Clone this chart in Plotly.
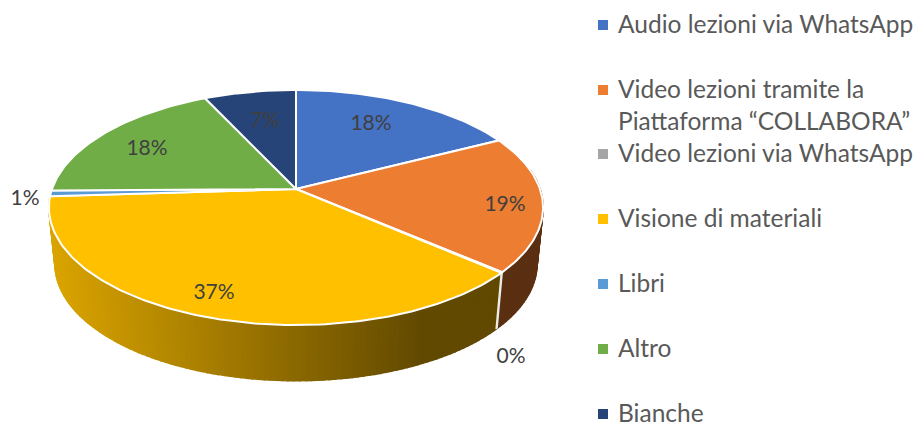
import math
import plotly.graph_objects as go

categories = ["Audio lezioni via WhatsApp", "Video lezioni tramite la<br>Piattaforma “COLLABORA”",
              "Video lezioni via WhatsApp", "Visione di materiali", "Libri", "Altro", "Bianche"]
values = [17.5, 18.8, 0.1, 37.6, 0.8, 18.2, 7.0]
labels = ["18%", "19%", "0%", "37%", "1%", "18%", "7%"]
colors = ["#4472C4", "#ED7D31", "#A5A5A5", "#FFC000", "#5B9BD5", "#70AD47", "#264478"]

# layout geometry (pixels of the 916x425 page)
CX, CY, A, B, K = 296, 189, 244, 114.6, 0.1575
DEPTH, BOT_A, BOT_B = 57, 0.975, 0.99
legend_y = [25, 90, 154, 219, 284, 349, 414]
legend_text_y = [23, 104, 152, 217, 282, 347, 412]
label_xy = [(371, 125), (505, 206), (511, 358), (214, 294), (25, 200), (147, 150), (265, 122)]


def rim(theta, dy=0.0, sa=1.0, sb=1.0):
    X, Y = math.sin(theta), math.cos(theta)
    w = 1 + K * Y
    return CX + sa * A * X / w, CY + dy - sb * B * Y / w


def shade(hex_col, f):
    r, g, b = [int(hex_col[i:i + 2], 16) for i in (1, 3, 5)]
    return f"rgb({int(r * f)},{int(g * f)},{int(b * f)})"


fig = go.Figure()
total = sum(values)
edges = [0.0]
for v in values:
    edges.append(edges[-1] + v / total * 2 * math.pi)

# side wall, drawn as narrow strips so that it can carry the shading
for i, col in enumerate(colors):
    a0, a1 = edges[i], edges[i + 1]
    lo, hi = max(a0, math.radians(80)), min(a1, math.radians(266))
    if hi <= lo:
        continue
    n = max(1, int((hi - lo) / math.radians(1.2)))
    for j in range(n):
        t0 = lo + (hi - lo) * j / n
        t1 = lo + (hi - lo) * (j + 1) / n
        p = [rim(t0), rim(t1), rim(t1, DEPTH, BOT_A, BOT_B), rim(t0, DEPTH, BOT_A, BOT_B)]
        mx = sum(q[0] for q in p) / 4
        f = max(0.385, min(0.86, 0.86 - (mx - 50) * 0.00128))
        c = shade(col, f)
        fig.add_trace(go.Scatter(x=[q[0] for q in p] + [p[0][0]], y=[q[1] for q in p] + [p[0][1]],
                                 mode="lines", fill="toself", fillcolor=c, line=dict(color=c, width=1.6),
                                 hoverinfo="skip", showlegend=False))

# white seam between the slices on the visible wall
for e in edges[1:-1]:
    if math.radians(90) < e < math.radians(200):
        p0, p1 = rim(e), rim(e, DEPTH, BOT_A, BOT_B)
        fig.add_trace(go.Scatter(x=[p0[0], p1[0]], y=[p0[1], p1[1]], mode="lines",
                                 line=dict(color="#EDEDE6", width=1.5), hoverinfo="skip", showlegend=False))

# top face
for i, col in enumerate(colors):
    a0, a1 = edges[i], edges[i + 1]
    n = max(2, int((a1 - a0) / math.radians(1)))
    pts = [(CX, CY)] + [rim(a0 + (a1 - a0) * j / n) for j in range(n + 1)] + [(CX, CY)]
    fig.add_trace(go.Scatter(x=[q[0] for q in pts], y=[q[1] for q in pts], mode="lines", fill="toself",
                             fillcolor=col, line=dict(color="white", width=2), name=categories[i],
                             hoverinfo="skip", showlegend=False))

# data labels
fig.add_trace(go.Scatter(x=[q[0] for q in label_xy], y=[q[1] for q in label_xy], mode="text", text=labels,
                         textposition="middle center", textfont=dict(family="Lato", size=21, color="#404040"),
                         hoverinfo="skip", showlegend=False))
# legend
fig.add_trace(go.Scatter(x=[603] * len(colors), y=legend_y, mode="markers",
                         marker=dict(symbol="square", size=10, color=colors, line=dict(width=0)),
                         hoverinfo="skip", showlegend=False))
for name, y in zip(categories, legend_text_y):
    fig.add_annotation(x=615.5, y=y, xref="x", yref="y", text=name, showarrow=False, xanchor="left", yanchor="middle",
                       align="left", font=dict(family="Lato", size=24.5, color="#595959"))

fig.update_layout(width=916, height=425, margin=dict(l=0, r=0, t=0, b=0), paper_bgcolor="white",
                  plot_bgcolor="white", showlegend=False,
                  xaxis=dict(range=[0, 916], visible=False, fixedrange=True),
                  yaxis=dict(range=[425, 0], visible=False, fixedrange=True))
fig.write_html("out.html", config=dict(displayModeBar=False),
               post_script="document.body.style.margin='0';")
